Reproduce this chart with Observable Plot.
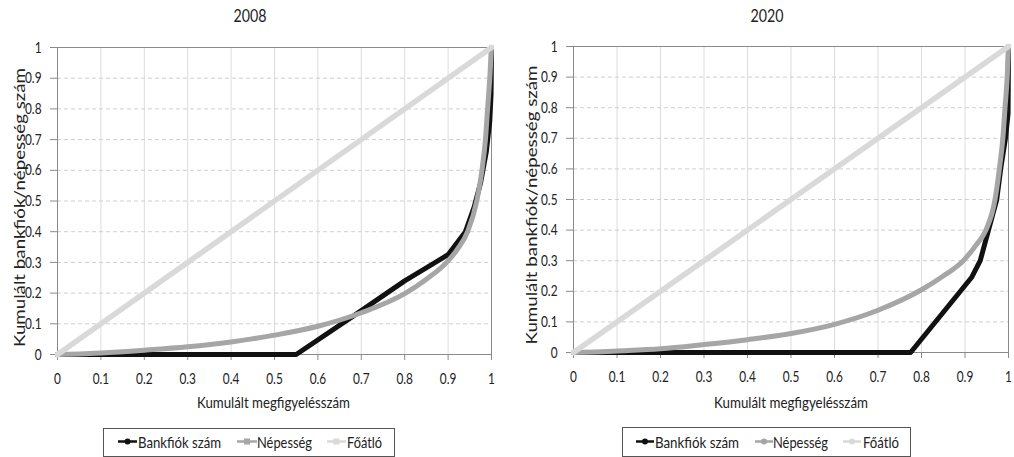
<!DOCTYPE html>
<html>
<head>
<meta charset="utf-8">
<script src="https://cdn.jsdelivr.net/npm/d3@7"></script>
<script src="https://cdn.jsdelivr.net/npm/@observablehq/plot@0.6"></script>
<style>
  body { margin:0; width:1014px; height:457px; position:relative; background:#fff; overflow:hidden; font-family: Lato, "Open Sans", sans-serif; color:#222; }
  .panel { position:absolute; top:0; }
  #overlay { position:absolute; left:0; top:0; pointer-events:none; }
</style>
</head>
<body>
<script>
// ---- data ----
const seriesNames = ["Bankfiók szám", "Népesség", "Főátló"];
const seriesColors = ["#111111", "#a6a6a6", "#d9d9d9"];
const xTicks = [0, 0.1, 0.2, 0.3, 0.4, 0.5, 0.6, 0.7, 0.8, 0.9, 1];
const yTicks = [0, 0.1, 0.2, 0.3, 0.4, 0.5, 0.6, 0.7, 0.8, 0.9, 1];
const panelTitles = ["2008", "2020"];

// 2008
const bank2008X = [0, 0.55, 0.7, 0.8, 0.9, 0.94, 0.96, 0.975, 0.988, 0.996, 0.999, 1];
const bank2008Y = [0, 0, 0.143, 0.24, 0.325, 0.4, 0.48, 0.56, 0.66, 0.76, 0.85, 1];
const nep2008X = [0, 0.05, 0.1, 0.2, 0.3, 0.4, 0.5, 0.6, 0.7, 0.8, 0.85, 0.9, 0.92, 0.945, 0.966, 0.978, 0.986, 0.991, 0.996, 1];
const nep2008Y = [0, 0.002, 0.005, 0.014, 0.025, 0.041, 0.063, 0.092, 0.136, 0.198, 0.245, 0.305, 0.34, 0.4, 0.5, 0.6, 0.7, 0.8, 0.9, 1];

// 2020
const bank2020X = [0, 0.775, 0.915, 0.935, 0.954, 0.973, 0.982, 0.993, 0.999, 1];
const bank2020Y = [0, 0, 0.245, 0.3, 0.4, 0.5, 0.6, 0.7, 0.78, 1];
const nep2020X = [0, 0.05, 0.1, 0.2, 0.3, 0.4, 0.5, 0.6, 0.7, 0.8, 0.85, 0.896, 0.925, 0.948, 0.969, 0.979, 0.987, 0.992, 0.997, 1];
const nep2020Y = [0, 0.002, 0.005, 0.012, 0.026, 0.042, 0.062, 0.092, 0.138, 0.205, 0.25, 0.3, 0.35, 0.4, 0.5, 0.6, 0.7, 0.8, 0.9, 1];

// main diagonal
const diagX = [0, 1];
const diagY = [0, 1];

const xLabel = "Kumulált megfigyelésszám";
const yLabel = "Kumulált bankfiók/népesség szám";

const FONT = "Lato, 'Open Sans', sans-serif";

function rows(name, xs, ys) { return xs.map((x, i) => ({series: name, x, y: ys[i]})); }

function makeChart(o) {
  const bank = rows(seriesNames[0], o.bankX, o.bankY);
  const nep = rows(seriesNames[1], o.nepX, o.nepY);
  const diag = rows(seriesNames[2], diagX, diagY);
  return Plot.plot({
    width: 507, height: 420,
    marginLeft: o.ml, marginRight: o.mr, marginTop: o.mt, marginBottom: 420 - o.bottom,
    x: {domain: [0, 1]},
    y: {domain: [0, 1]},
    color: {domain: seriesNames, range: seriesColors},
    style: {fontFamily: FONT, fontSize: "16px", color: "#222", background: "white", overflow: "visible"},
    marks: [
      Plot.gridX(xTicks, {stroke: "#dcdcdc", strokeOpacity: 1}),
      Plot.gridY(yTicks, {stroke: "#cfcfcf", strokeOpacity: 1, strokeDasharray: "4,3"}),
      Plot.frame({stroke: "#8a8a8a"}),
      Plot.axisX(xTicks, {tickFormat: d => String(d), tickSize: 6, tickPadding: 12, stroke: "#8a8a8a", label: null}),
      Plot.axisY(yTicks, {tickFormat: d => String(d), tickSize: 7, tickPadding: 9, stroke: "#8a8a8a", label: null}),
      Plot.line(bank, {x: "x", y: "y", stroke: "series", strokeWidth: 5, strokeLinejoin: "round", strokeLinecap: "round"}),
      Plot.line(nep, {x: "x", y: "y", stroke: "series", strokeWidth: 5, curve: "monotone-x", strokeLinejoin: "round", strokeLinecap: "round"}),
      Plot.line(diag, {x: "x", y: "y", stroke: "series", strokeWidth: 5.5, strokeLinecap: "round"})
    ]
  });
}

function fit(t, len) {
  t.setAttribute("textLength", len);
  t.setAttribute("lengthAdjust", "spacingAndGlyphs");
}

function squeezeChart(svg) {
  svg.querySelectorAll('g[aria-label="x-axis tick label"] text, g[aria-label="y-axis tick label"] text').forEach(t => {
    fit(t, t.getComputedTextLength() * 0.74);
  });
}

function addPanel(left, chart) {
  const p = document.createElement("div");
  p.className = "panel"; p.style.left = left + "px";
  p.appendChild(chart);
  document.body.appendChild(p);
  squeezeChart(chart);
}

addPanel(0, makeChart({bankX: bank2008X, bankY: bank2008Y, nepX: nep2008X, nepY: nep2008Y,
  ml: 57, mr: 16, mt: 47, bottom: 354}));
addPanel(507, makeChart({bankX: bank2020X, bankY: bank2020Y, nepX: nep2020X, nepY: nep2020Y,
  ml: 66, mr: 6, mt: 46, bottom: 352}));

// ---- titles, axis titles and legends (overlay) ----
const ns = "http://www.w3.org/2000/svg";
const ov = document.createElementNS(ns, "svg");
ov.setAttribute("id", "overlay");
ov.setAttribute("width", 1014); ov.setAttribute("height", 457);
ov.style.fontFamily = FONT;
document.body.appendChild(ov);

function el(name, attrs, parent) {
  const e = document.createElementNS(ns, name);
  for (const k in attrs) e.setAttribute(k, attrs[k]);
  (parent || ov).appendChild(e);
  return e;
}
// text placed with start anchor so that its squeezed length is centred on cx
function ctext(s, cx, y, size, len, rotate) {
  const attrs = {"font-size": size, fill: "#222", x: -len / 2, y: 0};
  const g = el("g", {transform: `translate(${cx},${y})` + (rotate ? ` rotate(${rotate})` : "")});
  const t = el("text", attrs, g);
  t.textContent = s;
  fit(t, len);
  return t;
}

ctext(panelTitles[0], 250, 22, 17, 33);
ctext(panelTitles[1], 767, 22, 17, 33);
ctext(xLabel, 273.5, 408, 16, 153);
ctext(xLabel, 791, 408, 16, 154);
// rotated y titles: translate to (baseline x, centre y), baseline on the right of the glyphs
ctext(yLabel, 24.5, 207.5, 15.5, 279, -90);
ctext(yLabel, 536.5, 205, 15.5, 279, -90);

function legend(box, items) {
  el("rect", {x: box[0] + 0.5, y: box[1] + 0.5, width: box[2] - box[0], height: 456 - box[1], fill: "white", stroke: "#555"});
  items.forEach((it, i) => {
    const c = seriesColors[i];
    el("line", {x1: it.s0, x2: it.s1, y1: 441.5, y2: 441.5, stroke: c, "stroke-width": 2.5});
    const mx = (it.s0 + it.s1) / 2;
    if (it.m === "square") el("rect", {x: mx - 3, y: 438.5, width: 6, height: 6, fill: c});
    else el("circle", {cx: mx, cy: 441.5, r: 3, fill: c});
    const t = el("text", {x: it.t, y: 447.5, "font-size": 16, fill: "#222"});
    t.textContent = seriesNames[i];
    fit(t, it.w);
  });
}
legend([103, 428, 394], [
  {s0: 118, s1: 137, t: 138, w: 83, m: "circle"},
  {s0: 237, s1: 257, t: 257, w: 55, m: "square"},
  {s0: 327, s1: 346, t: 347, w: 35, m: "square"}
]);
legend([622, 427, 910], [
  {s0: 636, s1: 654, t: 655, w: 84, m: "circle"},
  {s0: 755, s1: 773, t: 773, w: 55, m: "circle"},
  {s0: 843, s1: 861, t: 863, w: 36, m: "circle"}
]);
</script>
</body>
</html>
